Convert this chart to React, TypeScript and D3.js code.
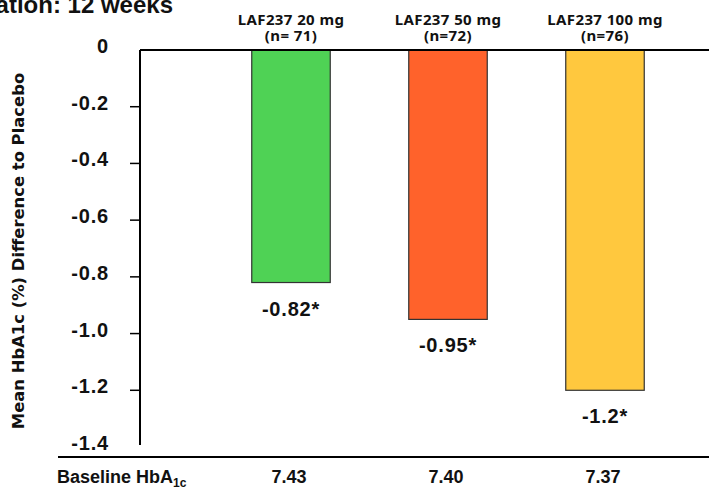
import { scaleBand, scaleLinear } from "d3";

const groups = ["LAF237 20 mg", "LAF237 50 mg", "LAF237 100 mg"];
const groupN = ["(n= 71)", "(n=72)", "(n=76)"];
const diffs = [-0.82, -0.95, -1.2];
const diffLabels = ["-0.82*", "-0.95*", "-1.2*"];
const baselines = ["7.43", "7.40", "7.37"];
const barColors = ["#4fd255", "#ff622b", "#ffc83e"];
const yTicks = [0, -0.2, -0.4, -0.6, -0.8, -1.0, -1.2, -1.4];

const W = 709;
const H = 491;
const AXIS_X = 140;

export default function App() {
  const y = scaleLinear().domain([0, -1.4]).range([50, 447]);
  const x = scaleBand<string>()
    .domain(groups)
    .range([173.25, 722.75])
    .paddingInner(0.5)
    .paddingOuter(0.5);

  const fmt = (v: number) => (v === 0 ? "0" : v.toFixed(1));
  const center = (g: string) => (x(g) ?? 0) + x.bandwidth() / 2;

  return (
    <svg
      width={W}
      height={H}
      style={{ position: "absolute", left: 0, top: 0, background: "#fff" }}
      fontFamily="'Liberation Sans', Arial, sans-serif"
    >
      {/* title, cut off by the top-left corner as in the slide */}
      <text x={173} y={13} textAnchor="end" fontSize={24} fontWeight="bold" fill="#111">
        Duration: 12 weeks
      </text>

      {/* y-axis title */}
      <text
        transform={`translate(24, ${251}) rotate(-90)`}
        textAnchor="middle"
        fontFamily="'DejaVu Sans', sans-serif"
        fontSize={16.4}
        fontWeight="bold"
        fill="#111"
      >
        Mean HbA1c (%) Difference to Placebo
      </text>

      {/* group headers */}
      {groups.map((g, i) => (
        <g
          key={g}
          fontFamily="'Noto Sans', sans-serif"
          fontWeight="bold"
          fontSize={15}
          letterSpacing={0.4}
          fill="#111"
          textAnchor="middle"
        >
          <text x={center(g)} y={25}>{g}</text>
          <text x={center(g)} y={41}>{groupN[i]}</text>
        </g>
      ))}

      {/* bars */}
      {groups.map((g, i) => (
        <rect
          key={g}
          x={x(g)}
          y={y(0)}
          width={x.bandwidth()}
          height={y(diffs[i]) - y(0)}
          fill={barColors[i]}
          stroke="#333"
          strokeWidth={1.2}
        />
      ))}

      {/* zero line and y axis */}
      <line x1={AXIS_X} x2={W} y1={y(0)} y2={y(0)} stroke="#000" strokeWidth={2} />
      <line x1={AXIS_X} x2={AXIS_X} y1={y(0)} y2={y(-1.4) - 2} stroke="#000" strokeWidth={2} />
      {yTicks.map((t) => (
        <g key={t}>
          {t !== 0 && t !== -1.4 && (
            <line x1={AXIS_X - 10} x2={AXIS_X} y1={y(t)} y2={y(t)} stroke="#000" strokeWidth={1.5} />
          )}
          <text
            x={109}
            y={y(t) + 3}
            textAnchor="end"
            fontSize={20}
            fontWeight="bold"
            letterSpacing={0.8}
            fill="#111"
          >
            {fmt(t)}
          </text>
        </g>
      ))}

      {/* value labels */}
      {groups.map((g, i) => (
        <text
          key={g}
          x={center(g)}
          y={y(diffs[i]) + 33}
          textAnchor="middle"
          fontSize={20}
          fontWeight="bold"
          letterSpacing={0.8}
          fill="#111"
        >
          {diffLabels[i]}
        </text>
      ))}

      {/* baseline row */}
      <line x1={58} x2={W} y1={457} y2={457} stroke="#000" strokeWidth={2} />
      <text x={57} y={483} fontSize={18} fontWeight="bold" fill="#111">
        Baseline HbA<tspan fontSize={12} dy={4}>1c</tspan>
      </text>
      {groups.map((g, i) => (
        <text key={g} x={center(g) - 2} y={483} textAnchor="middle" fontSize={18} fontWeight="bold" fill="#111">
          {baselines[i]}
        </text>
      ))}
    </svg>
  );
}
